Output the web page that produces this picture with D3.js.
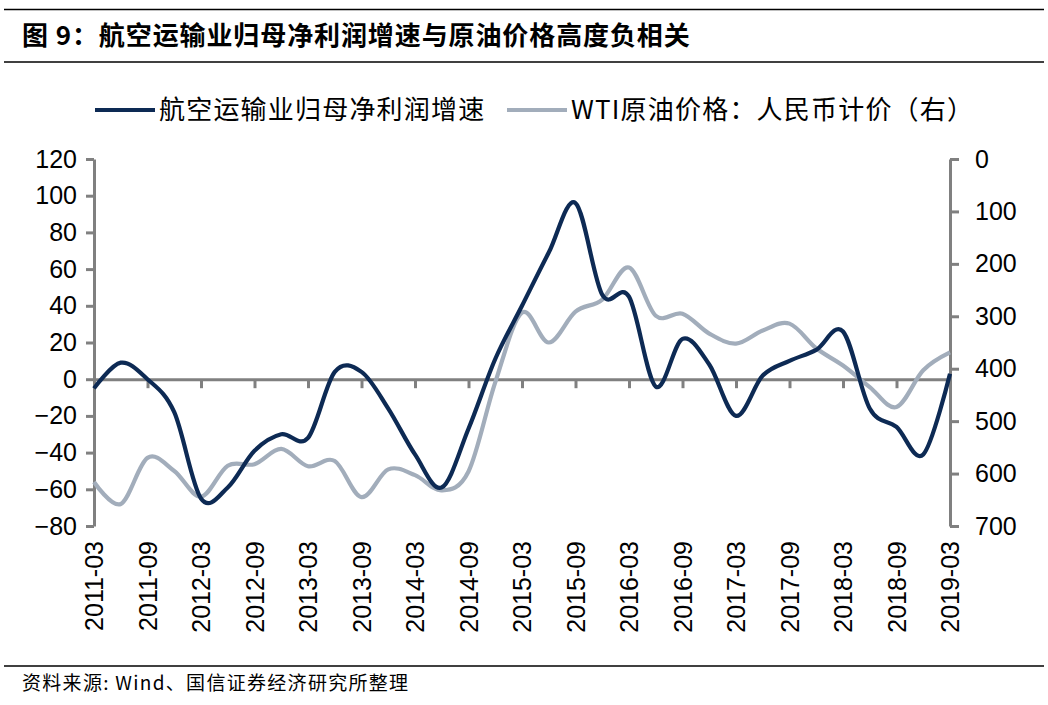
<!DOCTYPE html>
<html>
<head>
<meta charset="utf-8">
<script src="https://cdn.jsdelivr.net/npm/d3@7"></script>
<style>
  body { margin: 0; background: #fff; }
  svg { display: block; }
  .tick text { font-family: "Liberation Sans", Arial, sans-serif; font-size: 25px; fill: #000; }
</style>
</head>
<body>
<svg id="chart" width="1048" height="705"></svg>
<script>
// quarterly data, 2011-03 .. 2019-03
const quarters = [
  "2011-03", "2011-06", "2011-09", "2011-12",
  "2012-03", "2012-06", "2012-09", "2012-12",
  "2013-03", "2013-06", "2013-09", "2013-12",
  "2014-03", "2014-06", "2014-09", "2014-12",
  "2015-03", "2015-06", "2015-09", "2015-12",
  "2016-03", "2016-06", "2016-09", "2016-12",
  "2017-03", "2017-06", "2017-09", "2017-12",
  "2018-03", "2018-06", "2018-09", "2018-12",
  "2019-03",
];
// 航空运输业归母净利润增速 (%), left axis
const profitGrowth = [
  -5, 9, 0, -18,
  -65, -59, -39, -30,
  -32, 4, 4, -16,
  -41, -59, -27, 11,
  40, 69, 96, 46,
  45, -4, 22, 8,
  -20, 2, 10, 16,
  26, -16, -26, -41,
  3,
];
// WTI原油价格：人民币计价, right axis (inverted)
const oilRmb = [
  616, 658, 570, 595,
  644, 585, 582, 553,
  586, 576, 645, 592,
  603, 632, 596, 426,
  293, 350, 291, 268,
  207, 299, 295, 333,
  352, 327, 314, 361,
  394, 435, 473, 403,
  369,
];
const leftTicks = [-80, -60, -40, -20, 0, 20, 40, 60, 80, 100, 120];
const rightTicks = [0, 100, 200, 300, 400, 500, 600, 700];
const xLabels = quarters.filter((d, i) => i % 2 === 0);

const title = "图 9：航空运输业归母净利润增速与原油价格高度负相关";
const source = "资料来源: Wind、国信证券经济研究所整理";
const seriesNames = ["航空运输业归母净利润增速", "WTI原油价格：人民币计价（右）"];

const darkC = "#0d2a54";
const greyC = "#a2adbb";
const axisC = "#808080";
const cjk = '"Noto Sans CJK SC", sans-serif';

const svg = d3.select("#chart");
svg.append("rect").attr("width", 1048).attr("height", 705).attr("fill", "#fff");

// header + footer rules
svg.append("line").attr("x1", 4).attr("x2", 1044).attr("y1", 9.5).attr("y2", 9.5)
  .attr("stroke", "#000").attr("stroke-width", 1.5);
svg.append("line").attr("x1", 4).attr("x2", 1044).attr("y1", 62).attr("y2", 62)
  .attr("stroke", "#000").attr("stroke-width", 1.5);
svg.append("line").attr("x1", 4).attr("x2", 1044).attr("y1", 666).attr("y2", 666)
  .attr("stroke", "#000").attr("stroke-width", 1.5);

svg.append("text").attr("x", 22).attr("y", 45)
  .style("font-family", cjk).style("font-weight", 700).style("font-size", "26px")
  .style("letter-spacing", "0.9px")
  .text(title);
svg.append("text").attr("x", 22).attr("y", 690)
  .style("font-family", cjk).style("font-size", "19px")
  .style("letter-spacing", "1.3px")
  .text(source);

const x = d3.scalePoint().domain(quarters).range([94, 950]);
const yL = d3.scaleLinear().domain([-80, 120]).range([526, 159]);
const yR = d3.scaleLinear().domain([0, 700]).range([159, 526]);

// left axis
const gl = svg.append("g").attr("transform", "translate(94,0)")
  .call(d3.axisLeft(yL).tickValues(leftTicks).tickSize(8).tickSizeOuter(0).tickPadding(9));
// right axis
const gr = svg.append("g").attr("transform", "translate(950,0)")
  .call(d3.axisRight(yR).tickValues(rightTicks).tickSize(9).tickSizeOuter(0).tickPadding(16));
// category axis on zero line
const gx = svg.append("g").attr("transform", `translate(0,${yL(0)})`)
  .call(d3.axisBottom(x).tickValues(xLabels).tickSize(9).tickSizeOuter(0).tickFormat(""));

[gl, gr, gx].forEach((g) => {
  g.select(".domain").attr("stroke", axisC).attr("stroke-width", 3);
  g.selectAll(".tick line").attr("stroke", axisC).attr("stroke-width", 3);
});

// rotated quarter labels at the bottom
svg.append("g").selectAll("text")
  .data(xLabels)
  .join("text")
  .attr("transform", (d) => `translate(${x(d)},541) rotate(-90)`)
  .attr("text-anchor", "end")
  .attr("dy", "0.36em")
  .style("font-family", '"Liberation Sans", Arial, sans-serif')
  .style("font-size", "25px")
  .text((d) => d);

// lines
const curve = d3.curveCardinal.tension(0);
svg.append("path")
  .datum(oilRmb)
  .attr("fill", "none").attr("stroke", greyC).attr("stroke-width", 4.2)
  .attr("stroke-linejoin", "round")
  .attr("d", d3.line().x((d, i) => x(quarters[i])).y((d) => yR(d)).curve(curve));
svg.append("path")
  .datum(profitGrowth)
  .attr("fill", "none").attr("stroke", darkC).attr("stroke-width", 4.2)
  .attr("stroke-linejoin", "round")
  .attr("d", d3.line().x((d, i) => x(quarters[i])).y((d) => yL(d)).curve(curve));

// legend
const legend = [
  { name: seriesNames[0], color: darkC, x: 95 },
  { name: seriesNames[1], color: greyC, x: 507 },
];
const lg = svg.append("g").selectAll("g").data(legend).join("g")
  .attr("transform", (d) => `translate(${d.x},110)`);
lg.append("line").attr("x1", 0).attr("x2", 60)
  .attr("stroke", (d) => d.color).attr("stroke-width", 4.2);
lg.append("text").attr("x", 64).attr("dy", "0.36em")
  .style("font-family", cjk).style("font-size", "26px")
  .style("letter-spacing", "1.2px")
  .text((d) => d.name);
</script>
</body>
</html>
